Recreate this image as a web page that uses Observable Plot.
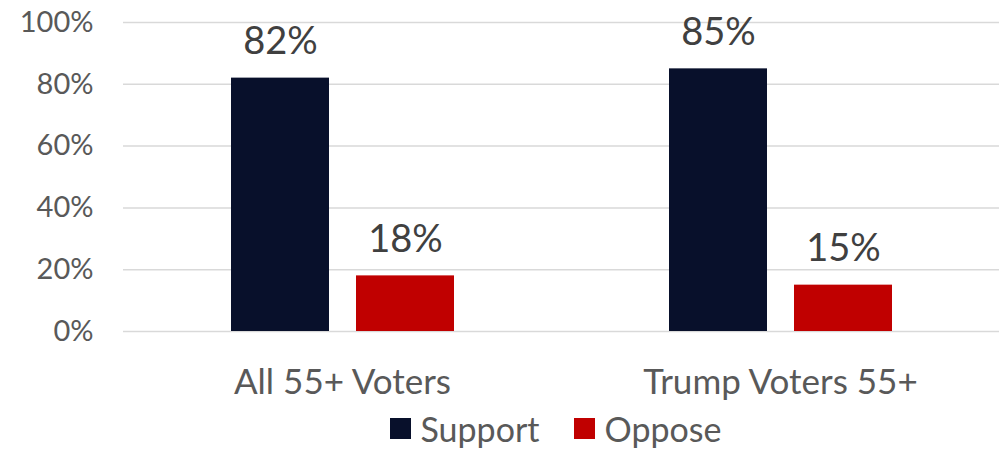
<!DOCTYPE html>
<html>
<head>
<meta charset="utf-8">
<script src="https://cdn.jsdelivr.net/npm/d3@7"></script>
<script src="https://cdn.jsdelivr.net/npm/@observablehq/plot@0.6"></script>
<style>
  html, body { margin: 0; padding: 0; background: #fff; }
  body { width: 999px; height: 451px; overflow: hidden; font-family: Lato, "Open Sans", sans-serif; }
  #legend { display: flex; justify-content: center; align-items: center; gap: 34px; margin-left: 112px; height: 46px; font-size: 34px; color: #595959; }
  .item { display: flex; align-items: center; gap: 10px; }
  .sw { width: 21px; height: 21px; display: inline-block; }
</style>
</head>
<body>
<div id="chart"></div>
<div id="legend"></div>
<script>
const categories = ["All 55+ Voters", "Trump Voters 55+"];
const series = ["Support", "Oppose"];
const support = [82, 85];
const oppose = [18, 15];
const colors = ["#08102b", "#c00000"];
const yTicks = [0, 20, 40, 60, 80, 100];

const data = [];
categories.forEach((c, i) => {
  data.push({category: c, series: "Support", value: support[i]});
  data.push({category: c, series: "Oppose", value: oppose[i]});
});

const chart = Plot.plot({
  width: 999,
  height: 405,
  marginLeft: 122,
  marginRight: 0,
  marginTop: 22,
  marginBottom: 74,
  style: {fontFamily: "Lato, 'Open Sans', sans-serif", background: "#fff"},
  fx: {domain: categories, padding: 0, label: null, axis: null},
  x: {domain: series, paddingInner: 0.216, paddingOuter: 0.85, axis: null},
  y: {domain: [0, 100], label: null, axis: null},
  color: {domain: series, range: colors},
  marks: [
    Plot.gridY(yTicks, {stroke: "#d9d9d9", strokeOpacity: 1, strokeWidth: 1.5}),
    Plot.axisY(yTicks, {tickSize: 0, tickPadding: 30, fontSize: 29, fill: "#595959", tickFormat: d => d + "%", label: null}),
    Plot.axisFx({anchor: "bottom", tickSize: 0, tickPadding: 38, fontSize: 35, fill: "#595959", label: null}),
    Plot.barY(data, {fx: "category", x: "series", y: "value", fill: "series"}),
    Plot.text(data, {fx: "category", x: "series", y: "value", text: d => d.value + "%", lineAnchor: "bottom", dy: -24, fontSize: 38, fill: "#404040"})
  ]
});
document.getElementById("chart").appendChild(chart);

const legend = document.getElementById("legend");
series.forEach((s, i) => {
  const it = document.createElement("div");
  it.className = "item";
  it.innerHTML = `<span class="sw" style="background:${colors[i]}"></span><span>${s}</span>`;
  legend.appendChild(it);
});
</script>
</body>
</html>
